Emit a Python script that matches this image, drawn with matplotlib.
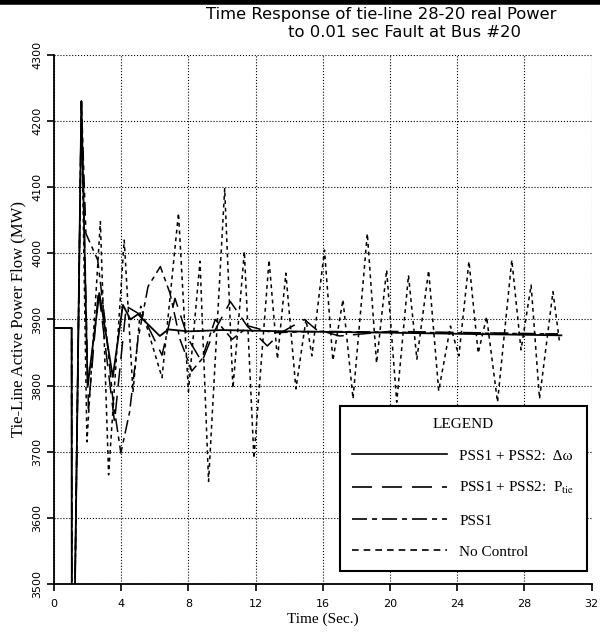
import matplotlib
matplotlib.use("Agg")
import matplotlib.pyplot as plt
from matplotlib.lines import Line2D

plt.rcParams['mathtext.fontset'] = 'stix'

# time (s) / tie-line power (MW)
t_dw = [0, 1.05, 1.06, 1.2, 1.63, 2.0, 2.7, 3.5, 4.1, 4.55, 5.0, 5.3, 6.3, 6.8,
        8.0, 10.0, 14.0, 20.0, 25.0, 30.2]
p_dw = [3887, 3887, 3400, 3400, 4230, 3798, 3940, 3813, 3922, 3900, 3908, 3900,
        3875, 3885, 3882, 3884, 3882, 3880, 3878, 3876]

t_ptie = [0, 1.05, 1.06, 1.2, 1.63, 2.05, 2.65, 3.6, 4.3, 5.3, 6.43, 7.2, 8.0,
          8.8, 9.5, 10.5, 11.5, 12.7, 13.5, 14.9, 15.6, 17.0, 20.0, 30.0]
p_ptie = [3887, 3887, 3400, 3400, 4230, 3765, 3945, 3745, 3920, 3905, 3846, 3932,
          3870, 3836, 3880, 3927, 3890, 3860, 3880, 3900, 3885, 3875, 3882, 3878]

t_pss1 = [0, 1.05, 1.06, 1.2, 1.63, 1.9, 2.6, 3.1, 3.5, 3.98, 4.5, 5.0, 5.6,
          6.33, 6.9, 7.5, 8.2, 8.8, 9.6, 10.6, 11.6, 13.0, 16.0, 30.0]
p_pss1 = [3887, 3887, 3400, 3400, 4230, 4030, 3990, 3884, 3780, 3698, 3760, 3870,
          3950, 3980, 3940, 3870, 3822, 3840, 3900, 3870, 3890, 3880, 3882, 3878]

t_none = [0, 1.05, 1.06, 1.2, 1.63, 1.96, 2.76, 3.25, 4.18, 4.7, 5.16, 6.43, 7.41,
          8.0, 8.69, 9.2, 10.16, 10.65, 11.33, 11.9, 12.8, 13.3, 13.8, 14.4, 15.0,
          15.35, 16.1, 16.6, 17.2, 17.8, 18.65, 19.2, 19.8, 20.4, 21.1, 21.6, 22.3,
          22.9, 23.6, 24.1, 24.7, 25.25, 25.75, 26.4, 27.25, 27.8, 28.4, 28.9,
          29.7, 30.1]
p_none = [3887, 3887, 3400, 3400, 4230, 3715, 4048, 3665, 4020, 3790, 3920, 3812,
          4061, 3791, 3988, 3655, 4098, 3796, 4003, 3690, 3990, 3840, 3970, 3795,
          3900, 3845, 4005, 3838, 3930, 3780, 4030, 3834, 3975, 3775, 3967, 3840,
          3974, 3792, 3890, 3845, 3988, 3849, 3904, 3775, 3990, 3854, 3952, 3780,
          3942, 3864]

fig = plt.figure(figsize=(6, 6.32), dpi=100)
ax = fig.add_axes([0.09, 0.076, 0.896, 0.837])

ax.plot(t_none, p_none, color='black', lw=1.1, dashes=(2.5, 2.5))
ax.plot(t_pss1, p_pss1, color='black', lw=1.1, dashes=(9, 3, 3, 3))
ax.plot(t_ptie, p_ptie, color='black', lw=1.1, dashes=(12, 6))
ax.plot(t_dw, p_dw, color='black', lw=1.3)

ax.set_xlim(0, 32)
ax.set_ylim(3500, 4300)
ax.set_xticks(range(0, 33, 4))
ax.set_yticks(range(3500, 4301, 100))
ax.grid(True, linestyle=':', color='black', lw=0.8)
ax.spines['top'].set_visible(False)
ax.spines['right'].set_visible(False)
ax.spines['left'].set_linewidth(1.3)
ax.spines['bottom'].set_linewidth(1.3)
ax.tick_params(axis='both', length=5, width=1.2, labelsize=8)
ax.tick_params(axis='x', pad=6)
plt.setp(ax.get_yticklabels(), rotation=90, va='center')

ax.set_xlabel("Time (Sec.)", family='Liberation Serif', fontsize=11, labelpad=2)
ax.set_ylabel("Tie-Line Active Power Flow (MW)", family='Liberation Serif',
              fontsize=12, labelpad=4)

fig.text(0.635, 0.977, "Time Response of tie-line 28-20 real Power",
         family='DejaVu Sans', fontsize=11.8, ha='center', va='center')
fig.text(0.675, 0.948, "to 0.01 sec Fault at Bus #20",
         family='DejaVu Sans', fontsize=11.8, ha='center', va='center')

# scrap of the table border above the chart in the scan
fig.add_artist(Line2D([0, 1], [0.997, 0.997], color='black', lw=4))

handles = [
    Line2D([], [], color='black', lw=1.2),
    Line2D([], [], color='black', lw=1.2, dashes=(12, 6)),
    Line2D([], [], color='black', lw=1.2, dashes=(9, 3, 3, 3)),
    Line2D([], [], color='black', lw=1.2, dashes=(4, 3)),
]
labels = ["PSS1 + PSS2:  Δω", "PSS1 + PSS2:  P$_{\\rm tie}$",
          "PSS1", "No Control"]
leg = ax.legend(handles, labels, title="LEGEND", loc='lower right',
                bbox_to_anchor=(1.005, 0.01), handlelength=6.2,
                labelspacing=1.15, borderpad=0.8, fancybox=False,
                edgecolor='black', framealpha=1,
                prop={'family': 'Liberation Serif', 'size': 11})
leg.get_title().set_family('Liberation Serif')
leg.get_title().set_fontsize(11)
leg.get_frame().set_linewidth(1.5)

plt.savefig("out.png", dpi=100)
